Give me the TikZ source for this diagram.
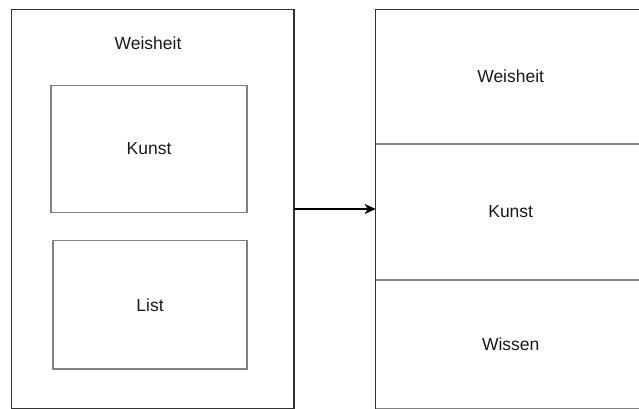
\documentclass[tikz,border=0pt]{standalone}
\usepackage{fontspec}
\setmainfont{Liberation Sans}
\usetikzlibrary{arrows.meta}
\definecolor{frame}{HTML}{333333}
\definecolor{inner}{HTML}{808080}
\definecolor{ink}{HTML}{1A1A1A}
\tikzset{
  container/.style={draw=frame, line width=1.4pt, fill=white, anchor=north west,
    rectangle, inner sep=0pt, outer sep=0pt},
  innerbox/.style={draw=inner, line width=1.2pt, fill=white, anchor=north west,
    rectangle, inner sep=0pt, outer sep=0pt, font=\fontsize{17.5}{20}\selectfont,
    text=ink},
  cell/.style={draw=inner, line width=1.1pt, anchor=north west, rectangle,
    inner sep=0pt, outer sep=0pt, font=\fontsize{17.5}{20}\selectfont, text=ink},
  caption/.style={font=\fontsize{17.5}{20}\selectfont, text=ink, inner sep=0pt},
  link/.style={draw=black, line width=1.2pt, -{Stealth[length=11pt,width=10pt,inset=3pt]}}
}
\begin{document}
\begin{tikzpicture}[x=1pt,y=-1pt]
  \useasboundingbox (0,0) rectangle (639,408);
  \clip (0,0) rectangle (639,408);
  % left container with its two parts
  \node[container, minimum width=282.5pt, minimum height=399.5pt] (left) at (11.5,9.5) {};
  \node[caption] (leftTitle) at (148,43) {Weisheit};
  \node[innerbox, minimum width=196pt, minimum height=126.6pt] (kunstL) at (51,85.7) {Kunst};
  \node[innerbox, minimum width=194pt, minimum height=128.3pt] (listL) at (53,240.7) {List};
  % right stack of three cells
  \node[cell, minimum width=270pt, minimum height=134.7pt] (weisheitR) at (375.7,9.3) {Weisheit};
  \node[cell, minimum width=270pt, minimum height=136pt] (kunstR) at (375.7,144) {Kunst};
  \node[cell, minimum width=270pt, minimum height=129pt] (wissenR) at (375.7,280) {Wissen};
  \draw[frame, line width=1.4pt] (weisheitR.north west) -- (wissenR.south west);
  \draw[frame, line width=1.4pt] (weisheitR.north west) -- (weisheitR.north east);
  % connector
  \draw[link] (left.east |- 0,209) -- (kunstR.west |- 0,209);
\end{tikzpicture}
\end{document}
